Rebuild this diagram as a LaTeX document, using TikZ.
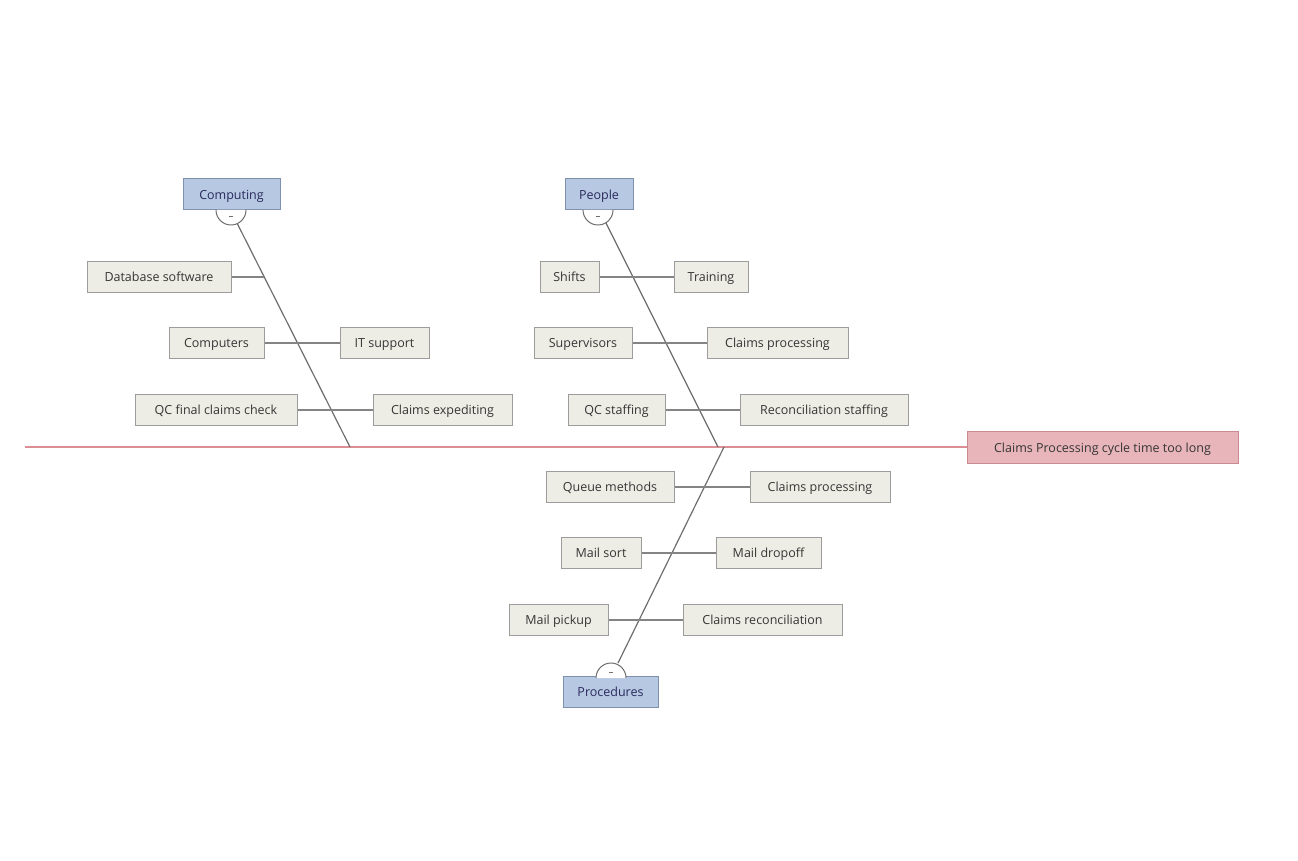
\documentclass[tikz,border=0pt]{standalone}
\usepackage{fontspec}
\setmainfont{Open Sans}
\usetikzlibrary{calc}
\definecolor{boxfill}{HTML}{EEEDE5}
\definecolor{boxdraw}{HTML}{9C9C9C}
\definecolor{catfill}{HTML}{B7C8E2}
\definecolor{catdraw}{HTML}{7F90AE}
\definecolor{efffill}{HTML}{E8B6BA}
\definecolor{effdraw}{HTML}{C98A90}
\definecolor{spinecol}{HTML}{DC8E95}
\definecolor{bonecol}{HTML}{6E6E6E}
\definecolor{txt}{HTML}{353535}
\tikzset{
  lbl/.style={line width=1pt, minimum height=31pt, inner sep=0pt, text height=10.5pt, text depth=1pt, font=\fontsize{12.5}{15}\selectfont},
  cause/.style={lbl, draw=boxdraw, fill=boxfill, text=txt},
  cat/.style={lbl, draw=catdraw, fill=catfill, text=txt!80!blue},
  effect/.style={lbl, draw=effdraw, fill=efffill, minimum height=32pt, text=txt},
  bone/.style={draw=bonecol, line width=1.2pt},
  twig/.style={draw=bonecol!85, line width=1.2pt},
  spine/.style={draw=spinecol, line width=1.2pt},
  knob/.style={draw=bonecol, line width=1pt, fill=white}
}
\begin{document}
\begin{tikzpicture}[x=1pt,y=1pt]
\useasboundingbox[fill=white] (0,0) rectangle (1298,860);
% effect
\node[effect, minimum width=271pt] (eff) at (1102.5,412) {Claims Processing cycle time too long};
\coordinate (tail) at (25,413);
\draw[spine] (tail) -- (eff.west |- tail);
% categories
\node[cat, minimum width=97pt] (comp) at (231.5,665.5) {Computing};
\node[cat, minimum width=68pt] (peop) at (599,665.5) {People};
\node[cat, minimum width=95pt] (proc) at (610.5,168) {Procedures};
% bone coordinates
\coordinate (c1) at (237,637); \coordinate (c2) at (350,413);
\coordinate (p1) at (606,637); \coordinate (p2) at (718,413);
\coordinate (q1) at (724,413); \coordinate (q2) at (618,197);
\draw[bone] (c1) -- (c2);
\draw[bone] (p1) -- (p2);
\draw[bone] (q1) -- (q2);
% knobs
\draw[knob] (216,650) arc[start angle=180,end angle=360,radius=15];
\draw[knob] (583,650) arc[start angle=180,end angle=360,radius=15];
\draw[knob] (596,182) arc[start angle=180,end angle=0,radius=15];
\draw[bonecol, line width=0.8pt] (229,644) -- (233,644);
\draw[bonecol, line width=0.8pt] (596,644) -- (600,644);
\draw[bonecol, line width=0.8pt] (609,188) -- (613,188);
% Computing causes
\node[cause, minimum width=144pt] (dbs) at (159,583) {Database software};
\node[cause, minimum width=95pt] (cmp) at (216.5,517) {Computers};
\node[cause, minimum width=89pt] (its) at (384.5,517) {IT support};
\node[cause, minimum width=162pt] (qcf) at (216,450) {QC final claims check};
\node[cause, minimum width=139pt] (cex) at (442.5,450) {Claims expediting};
\coordinate (dbsj) at ($(c1)!0.241!(c2)$);
\draw[twig] (dbs.east) -- (dbs.east -| dbsj);
\draw[twig] (cmp) -- (its);
\draw[twig] (qcf) -- (cex);
% People causes
\node[cause, minimum width=59pt] (shf) at (569.5,583) {Shifts};
\node[cause, minimum width=74pt] (trn) at (711,583) {Training};
\node[cause, minimum width=98pt] (sup) at (583,517) {Supervisors};
\node[cause, minimum width=141pt] (cpa) at (777.5,517) {Claims processing};
\node[cause, minimum width=97pt] (qcs) at (616.5,450) {QC staffing};
\node[cause, minimum width=168pt] (rcs) at (824,450) {Reconciliation staffing};
\draw[twig] (shf) -- (trn);
\draw[twig] (sup) -- (cpa);
\draw[twig] (qcs) -- (rcs);
% Procedures causes
\node[cause, minimum width=128pt] (que) at (610,373) {Queue methods};
\node[cause, minimum width=140pt] (cpb) at (820,373) {Claims processing};
\node[cause, minimum width=80pt] (mls) at (601,307) {Mail sort};
\node[cause, minimum width=105pt] (mld) at (768.5,307) {Mail dropoff};
\node[cause, minimum width=99pt] (mlp) at (558.5,240) {Mail pickup};
\node[cause, minimum width=159pt] (crc) at (762.5,240) {Claims reconciliation};
\draw[twig] (que) -- (cpb);
\draw[twig] (mls) -- (mld);
\draw[twig] (mlp) -- (crc);
\end{tikzpicture}
\end{document}
